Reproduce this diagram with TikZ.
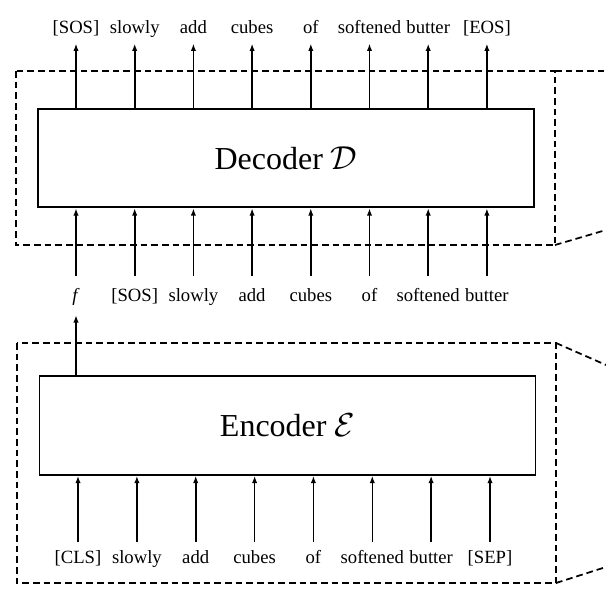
\documentclass[tikz,border=0pt]{standalone}
\usepackage{fontspec}
\setmainfont{Liberation Serif}
\usetikzlibrary{arrows.meta}

\begin{document}
\begin{tikzpicture}[>={Latex[length=5.5pt,width=4pt]}, x=0.75pt, y=-0.75pt,
  tok/.style={anchor=base, inner sep=3.5pt, text height=9.8pt, text depth=3.5pt, font=\fontsize{14}{16}\selectfont},
  block/.style={draw, line width=1.4pt, minimum width=372pt, minimum height=74pt, inner sep=0pt, font=\fontsize{24}{28}\selectfont},
  stage/.style={draw, line width=1.3pt, dash pattern=on 5pt off 3pt},
  flow/.style={->, line width=1.2pt},
  decin/.style={flow, shorten <=6pt},
  encin/.style={flow, shorten <=2.5pt}
]
\useasboundingbox (0,0) rectangle (606,605);
\draw[stage] (16,71) rectangle (555,245);
\draw[stage] (555,71) -- (606,71);
\draw[stage] (555,245) -- (606,230);
\draw[stage] (17,343) rectangle (556,583);
\draw[stage] (556,343) -- (606,365);
\draw[stage] (556,583) -- (606,567);
\node[block] (dec) at (286,158) {Decoder $\mathcal{D}$};
\node[block] (enc) at (287.5,425.5) {Encoder $\mathcal{E}$};
\node[tok] (o0) at (76.0,34) {[SOS]};
\node[tok] (o1) at (134.7,34) {slowly};
\node[tok] (o2) at (193.4,34) {add};
\node[tok] (o3) at (252.1,34) {cubes};
\node[tok] (o4) at (310.8,34) {of};
\node[tok] (o5) at (369.5,34) {softened};
\node[tok] (o6) at (428.2,34) {butter};
\node[tok] (o7) at (486.9,34) {[EOS]};
\node[tok] (i0) at (76.0,302) {\textit{f}};
\node[tok] (i1) at (134.7,302) {[SOS]};
\node[tok] (i2) at (193.4,302) {slowly};
\node[tok] (i3) at (252.1,302) {add};
\node[tok] (i4) at (310.8,302) {cubes};
\node[tok] (i5) at (369.5,302) {of};
\node[tok] (i6) at (428.2,302) {softened};
\node[tok] (i7) at (486.9,302) {butter};
\node[tok] (e0) at (78.0,563) {[CLS]};
\node[tok] (e1) at (136.9,563) {slowly};
\node[tok] (e2) at (195.7,563) {add};
\node[tok] (e3) at (254.6,563) {cubes};
\node[tok] (e4) at (313.4,563) {of};
\node[tok] (e5) at (372.3,563) {softened};
\node[tok] (e6) at (431.1,563) {butter};
\node[tok] (e7) at (490.0,563) {[SEP]};
\draw[flow] (dec.north -| o0) -- (o0);
\draw[flow] (dec.north -| o1) -- (o1);
\draw[flow] (dec.north -| o2) -- (o2);
\draw[flow] (dec.north -| o3) -- (o3);
\draw[flow] (dec.north -| o4) -- (o4);
\draw[flow] (dec.north -| o5) -- (o5);
\draw[flow] (dec.north -| o6) -- (o6);
\draw[flow] (dec.north -| o7) -- (o7);
\draw[decin] (i0) -- (dec.south -| i0);
\draw[decin] (i1) -- (dec.south -| i1);
\draw[decin] (i2) -- (dec.south -| i2);
\draw[decin] (i3) -- (dec.south -| i3);
\draw[decin] (i4) -- (dec.south -| i4);
\draw[decin] (i5) -- (dec.south -| i5);
\draw[decin] (i6) -- (dec.south -| i6);
\draw[decin] (i7) -- (dec.south -| i7);
\draw[flow, shorten >=2.7pt] (enc.north -| i0) -- (i0);
\draw[encin] (e0) -- (enc.south -| e0);
\draw[encin] (e1) -- (enc.south -| e1);
\draw[encin] (e2) -- (enc.south -| e2);
\draw[encin] (e3) -- (enc.south -| e3);
\draw[encin] (e4) -- (enc.south -| e4);
\draw[encin] (e5) -- (enc.south -| e5);
\draw[encin] (e6) -- (enc.south -| e6);
\draw[encin] (e7) -- (enc.south -| e7);
\end{tikzpicture}
\end{document}
